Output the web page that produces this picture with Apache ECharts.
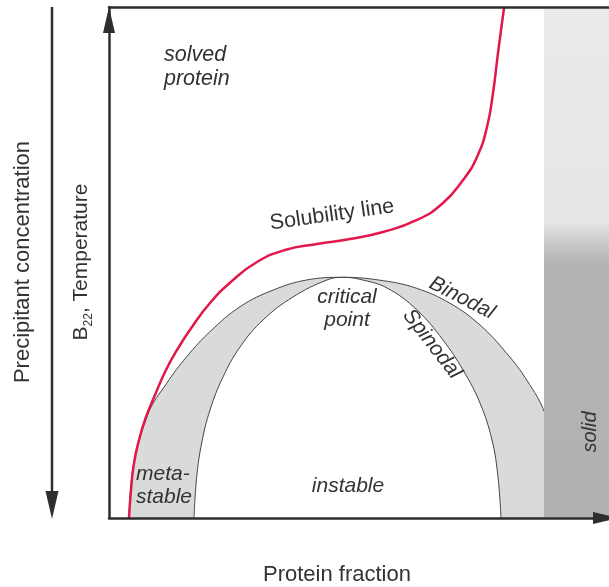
<!DOCTYPE html>
<html><head><meta charset="utf-8">
<script src="https://cdn.jsdelivr.net/npm/echarts@6/dist/echarts.min.js"></script>
<style>html,body{margin:0;padding:0;background:#fff;overflow:hidden}#c{width:609px;height:587px}</style>
</head><body><div id="c"></div>
<script>
// Axis ranges (arbitrary units: protein fraction 0..100, B22/temperature 0..100)
const xRange = [0, 100];
const yRange = [0, 100];

// Solubility line (red)
const solubilityLine = [
  [4.0, 0], [4.4, 5.48], [5.0, 10.76], [6.0, 15.26], [7.4, 19.77], [9.2, 24.07],
  [11.2, 28.57], [13.6, 32.88], [16.6, 37.38], [20.2, 42.07], [24.6, 46.38],
  [29.6, 50.1], [35.2, 52.45], [41.6, 53.62], [48.2, 54.6], [54.8, 55.97],
  [61.6, 58.32], [66.8, 61.64], [70.8, 66.14], [73.6, 70.65], [75.6, 76.52],
  [76.8, 83.17], [77.8, 91.0], [79.0, 99.8], [79.03, 100]
];

// Binodal (outer dome)
const binodal = [
  [4.0, 0], [4.86, 10.04], [7.86, 20.49], [11.54, 26.36], [15.54, 31.57], [20.2, 36.46],
  [26.2, 41.35], [32.86, 44.62], [39.54, 46.58], [46.86, 47.1], [54.86, 46.44],
  [61.54, 44.95], [68.2, 42.02], [74.2, 37.77], [79.54, 32.23], [83.54, 27.01],
  [87.2, 20.49], [89.2, 12.72], [90.0, 4.89], [90.2, 0]
];

// Spinodal (inner dome)
const spinodal = [
  [17.0, 0], [17.54, 8.08], [18.54, 14.68], [20.2, 21.14], [22.8, 27.59], [26.2, 33.46],
  [30.8, 38.75], [36.8, 43.25], [43.6, 46.58], [46.86, 47.1], [50.2, 46.7],
  [55.6, 45.01], [61.6, 40.7], [66.8, 34.83], [70.8, 28.96], [74.2, 22.5],
  [76.6, 15.26], [77.8, 8.02], [78.4, 0]
];

// Solid phase region (x from 87 to the right edge)
const solidRegion = [[87, 100], [100, 100]];

const labels = {
  xName: 'Protein fraction',
  yOuter: 'Precipitant concentration',
  solved: 'solved\nprotein',
  solubility: 'Solubility line',
  critical: 'critical\npoint',
  binodal: 'Binodal',
  spinodal: 'Spinodal',
  meta: 'meta-\nstable',
  instable: 'instable',
  solid: 'solid'
};

const chart = echarts.init(document.getElementById('c'), null, {renderer: 'canvas'});
const axisCol = '#2e2e2e';
const txtCol = '#333333';
const FF = '"Liberation Sans", Arial, sans-serif';

const option = {
  animation: false,
  backgroundColor: '#ffffff',
  grid: {left: 109, top: 7, right: 0, bottom: 69, containLabel: false},
  xAxis: [{
    type: 'value', min: xRange[0], max: xRange[1], z: 20,
    axisLine: {show: true, onZero: false, symbol: ['none', 'triangle'], symbolSize: [12, 26], symbolOffset: [0, -3],
      lineStyle: {color: axisCol, width: 2.5}},
    axisTick: {show: false}, axisLabel: {show: false}, splitLine: {show: false}
  }, {
    type: 'value', position: 'top', min: xRange[0], max: xRange[1], z: 20,
    axisLine: {show: true, onZero: false, lineStyle: {color: axisCol, width: 2.5}},
    axisTick: {show: false}, axisLabel: {show: false}, splitLine: {show: false}
  }],
  yAxis: {
    type: 'value', min: yRange[0], max: yRange[1], z: 20,
    axisLine: {show: true, onZero: false, symbol: ['none', 'triangle'], symbolSize: [12, 26], symbolOffset: [0, -13],
      lineStyle: {color: axisCol, width: 2.5}},
    axisTick: {show: false}, axisLabel: {show: false}, splitLine: {show: false}
  },
  series: [
    {type: 'line', name: 'binodalFill', data: binodal, smooth: 0.4, showSymbol: false, z: 2,
      lineStyle: {width: 0}, areaStyle: {color: '#d9dada', opacity: 1}},
    {type: 'line', name: 'spinodalFill', data: spinodal, smooth: 0.4, showSymbol: false, z: 3,
      lineStyle: {width: 0}, areaStyle: {color: '#ffffff', opacity: 1}},
    {type: 'line', name: 'Binodal', data: binodal, smooth: 0.4, showSymbol: false, z: 4,
      lineStyle: {width: 1, color: '#454545'}},
    {type: 'line', name: 'Spinodal', data: spinodal, smooth: 0.4, showSymbol: false, z: 4,
      lineStyle: {width: 1, color: '#454545'}},
    {type: 'line', name: 'solid', data: solidRegion, showSymbol: false, z: 5,
      lineStyle: {width: 0},
      areaStyle: {opacity: 1, color: new echarts.graphic.LinearGradient(0, 0, 0, 1, [
        {offset: 0, color: '#e9eaea'}, {offset: 0.42, color: '#e5e6e6'},
        {offset: 0.47, color: '#c4c5c5'}, {offset: 0.50, color: '#b3b4b4'}, {offset: 1, color: '#b0b1b1'}])}},
    {type: 'line', name: 'Solubility line', data: solubilityLine, smooth: 0.5, showSymbol: false, z: 6,
      lineStyle: {width: 2.5, color: '#e2174c'}}
  ],
  graphic: [
    // left outer arrow (precipitant concentration, pointing down)
    {type: 'line', shape: {x1: 52, y1: 7, x2: 52, y2: 495}, style: {stroke: axisCol, lineWidth: 2.5}, z: 30},
    {type: 'polygon', shape: {points: [[45.5, 491], [58.5, 491], [52, 519]]}, style: {fill: axisCol}, z: 30},
    {type: 'text', x: 23, y: 262, rotation: Math.PI / 2, z: 30,
      style: {text: labels.yOuter, font: '22px ' + FF, fill: txtCol, align: 'center', verticalAlign: 'middle'}},
    {type: 'text', x: 81, y: 262, rotation: Math.PI / 2, z: 30,
      style: {text: '{a|B}{s|22}{a|, Temperature}', fill: txtCol, align: 'center', verticalAlign: 'middle',
        rich: {a: {font: '21px ' + FF, fill: txtCol, verticalAlign: 'bottom'}, s: {font: '12px ' + FF, fill: txtCol, verticalAlign: 'bottom', padding: [0, 0, -3, 0]}}}},
    {type: 'text', x: 337, y: 575, z: 30,
      style: {text: labels.xName, font: '22px ' + FF, fill: txtCol, align: 'center', verticalAlign: 'middle'}},
    {type: 'text', x: 164, y: 67, z: 30,
      style: {text: labels.solved, font: 'italic 21.5px ' + FF, fill: txtCol, align: 'left', verticalAlign: 'middle', lineHeight: 24}},
    {type: 'text', x: 332, y: 215, rotation: 0.14, z: 30,
      style: {text: labels.solubility, font: '21.5px ' + FF, fill: txtCol, align: 'center', verticalAlign: 'middle'}},
    {type: 'text', x: 347, y: 309, z: 30,
      style: {text: labels.critical, font: 'italic 21px ' + FF, fill: txtCol, align: 'center', verticalAlign: 'middle', lineHeight: 23}},
    {type: 'text', x: 462, y: 298, rotation: -0.47, z: 30,
      style: {text: labels.binodal, font: 'italic 21px ' + FF, fill: txtCol, align: 'center', verticalAlign: 'middle'}},
    {type: 'text', x: 432, y: 344, rotation: -0.91, z: 30,
      style: {text: labels.spinodal, font: 'italic 21px ' + FF, fill: txtCol, align: 'center', verticalAlign: 'middle'}},
    {type: 'text', x: 136, y: 486, z: 30,
      style: {text: labels.meta, font: 'italic 21px ' + FF, fill: txtCol, align: 'left', verticalAlign: 'middle', lineHeight: 23}},
    {type: 'text', x: 348, y: 486, z: 30,
      style: {text: labels.instable, font: 'italic 21px ' + FF, fill: txtCol, align: 'center', verticalAlign: 'middle'}},
    {type: 'text', x: 590, y: 432, rotation: Math.PI / 2, z: 30,
      style: {text: labels.solid, font: 'italic 20px ' + FF, fill: txtCol, align: 'center', verticalAlign: 'middle'}}
  ]
};
chart.setOption(option);
</script>
</body></html>
